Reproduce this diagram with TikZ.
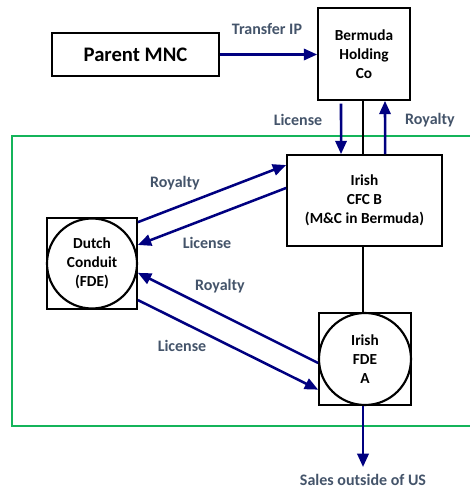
\documentclass[tikz,border=0pt]{standalone}
\usepackage{fontspec}
\setmainfont{Carlito}
\usetikzlibrary{arrows.meta}
\definecolor{flow}{RGB}{0,0,128}
\definecolor{lbl}{RGB}{68,84,106}
\definecolor{zone}{RGB}{20,180,90}
\tikzset{
  boxfont/.style={font=\fontsize{11.5}{14.2}\selectfont\bfseries},
  entity/.style={draw=black, line width=1.3pt, fill=white, align=center,
    boxfont, inner sep=0pt},
  ring/.style={draw=black, line width=1.6pt, circle, inner sep=0pt},
  flowarrow/.style={draw=flow, line width=1.9pt,
    -{Triangle[length=10pt,width=8.5pt]}},
  tie/.style={draw=black, line width=1.4pt},
  tag/.style={text=lbl, font=\fontsize{12}{14}\selectfont\bfseries, inner sep=0pt},
}
\begin{document}
\begin{tikzpicture}[x=0.75pt, y=-0.75pt]
\useasboundingbox (0,0) rectangle (470,492);

% group boundary
\draw[zone, line width=2pt] (476,136) -- (12,136) -- (12,426) -- (476,426);

% entities
\node[entity, minimum width=125.25pt, minimum height=32.25pt,
  font=\fontsize{15.5}{18}\selectfont\bfseries] (parent) at (135.5,54.5) {Parent MNC};
\node[entity, minimum width=69pt, minimum height=69pt] (bermuda) at (364,54) {Bermuda\\Holding\\Co};
\node[entity, minimum width=116.25pt, minimum height=68.25pt] (cfc) at (364.5,200.5) {Irish\\CFC B\\(M\&C in Bermuda)};
\node[entity, minimum width=67.5pt, minimum height=68.25pt] (dutch) at (92,263.5) {};
\node[ring, minimum size=67.5pt] (dutchring) at (dutch.center) {};
\node[boxfont, align=center] at (dutch.center) {Dutch\\Conduit\\(FDE)};
\node[entity, minimum width=69pt, minimum height=69pt] (fdea) at (365,359) {};
\node[ring, minimum size=69pt] (fdearing) at (fdea.center) {};
\node[boxfont, align=center] at (fdea.center) {Irish\\FDE\\A};

% ownership line
\draw[tie] ([xshift=-0.75pt]bermuda.south) -- ([xshift=-1.1pt]cfc.north);
\draw[tie] ([xshift=-1.1pt]cfc.south) -- ([xshift=-1.5pt]fdea.north);

% flows
\draw[flowarrow] (parent.east) -- (bermuda.west |- parent.east);
\draw[flowarrow] ([xshift=-17.25pt,yshift=-2pt]bermuda.south) -- ([xshift=-17.6pt]cfc.north);
\draw[flowarrow] ([xshift=15.4pt]cfc.north) -- ([xshift=15.75pt]bermuda.south);
\draw[flowarrow] ([yshift=31pt]dutch.east) -- ([yshift=26.6pt]cfc.west);
\draw[flowarrow] ([yshift=9.4pt]cfc.west) -- ([yshift=13.9pt]dutch.east);
\draw[flowarrow] ([yshift=-3pt]fdea.west) -- ([yshift=-7pt]dutch.east);
\draw[flowarrow] ([yshift=-27.4pt]dutch.east) -- ([yshift=-23pt]fdea.west);
\coordinate (market) at (363,467);
\draw[flowarrow] ([xshift=-1.5pt]fdea.south) -- (market);

% flow labels
\node[tag] at (267,29) {Transfer IP};
\node[tag] at (298,120) {License};
\node[tag] at (430,120) {Royalty};
\node[tag] at (175,183) {Royalty};
\node[tag] at (207,243) {License};
\node[tag] at (220,286) {Royalty};
\node[tag] at (182,346) {License};
\node[tag, below=5pt] at (market) {Sales outside of US};
\end{tikzpicture}
\end{document}
